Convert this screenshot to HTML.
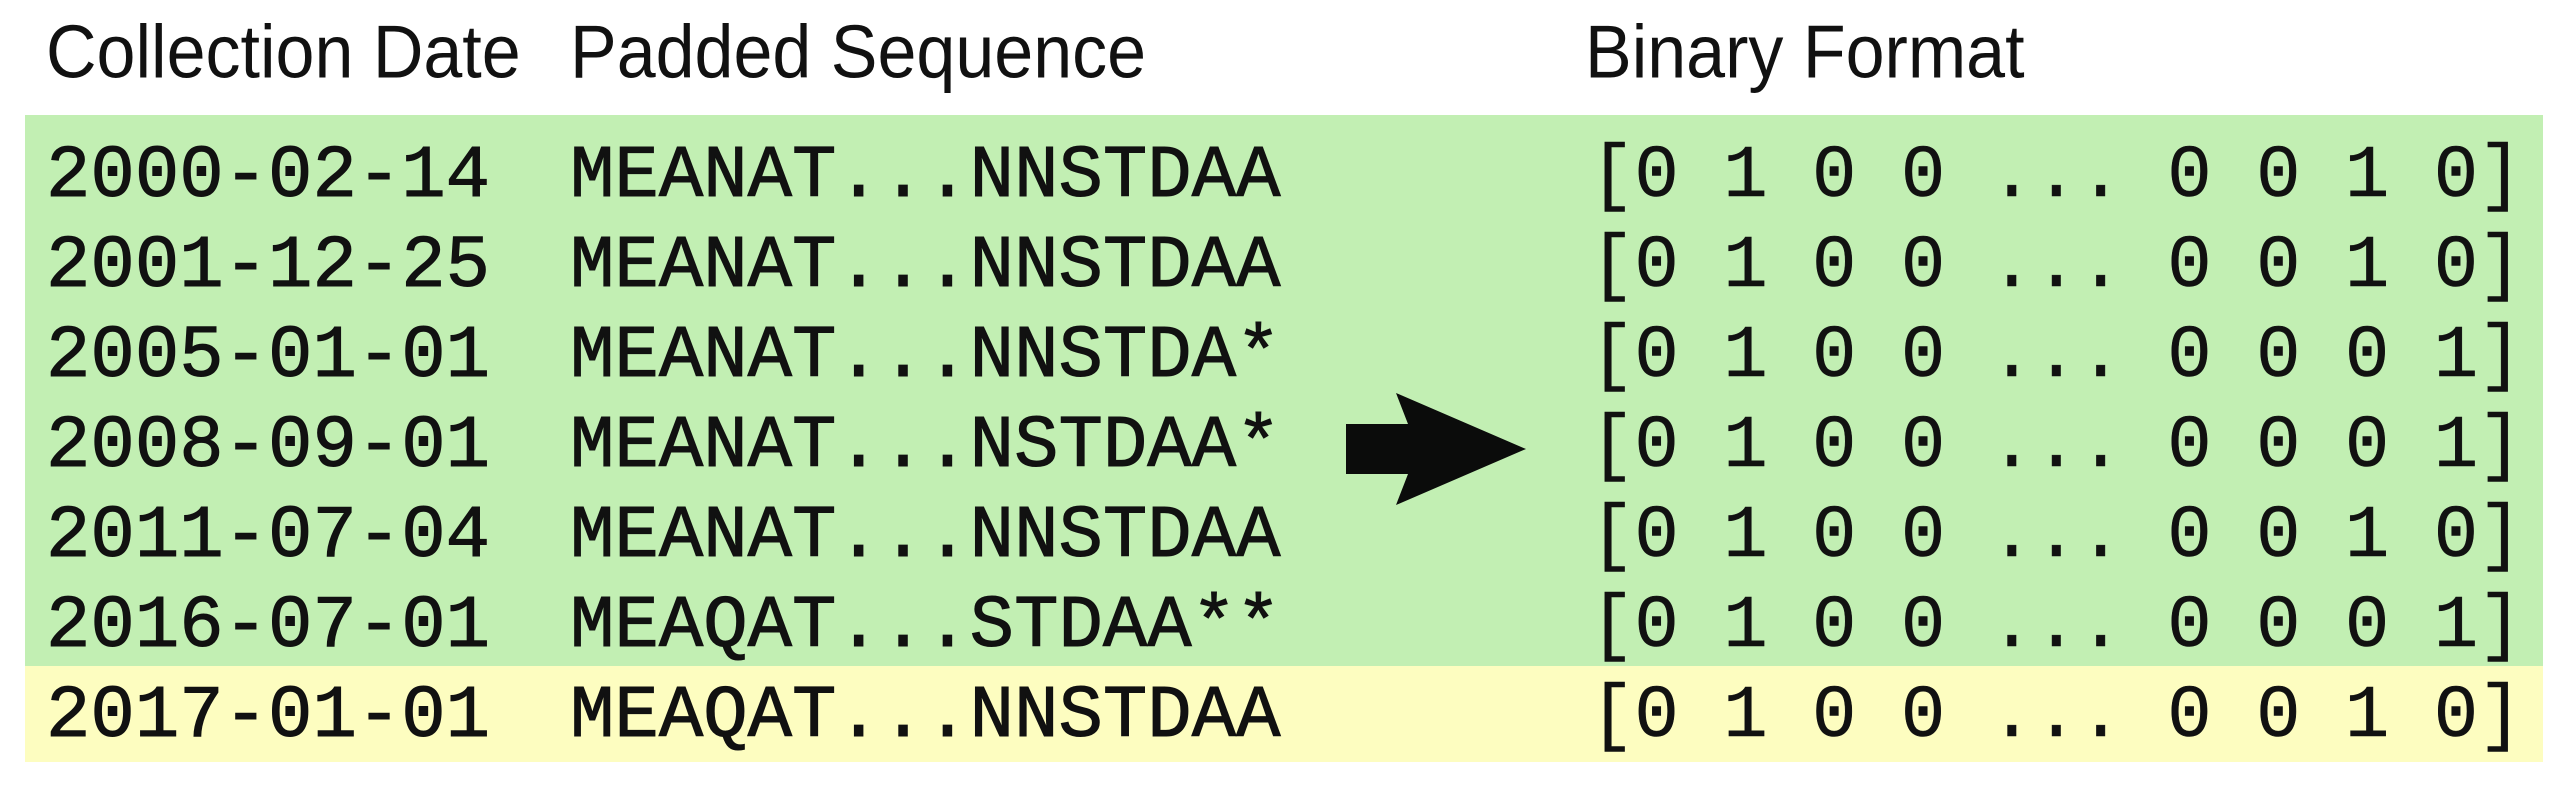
<!DOCTYPE html>
<html><head><meta charset="utf-8"><style>
html,body{margin:0;padding:0;background:#fff;}
body{width:2576px;height:796px;position:relative;overflow:hidden;}
.h{position:absolute;top:8px;font-family:"Liberation Sans",sans-serif;font-size:70px;line-height:90px;color:#111;white-space:pre;transform:scaleY(1.08);transform-origin:0 60px;}
.r{position:absolute;font-family:"Liberation Mono",monospace;font-size:74px;line-height:90px;height:90px;color:#111;white-space:pre;-webkit-text-stroke:1px #111;}
.b{-webkit-text-stroke:0.5px #111;}
</style></head><body>
<div style="position:absolute;left:25px;top:115px;width:2518px;height:551px;background:#c2efb3"></div>
<div style="position:absolute;left:25px;top:666px;width:2518px;height:96px;background:#fdfdc0"></div>
<div class="h" style="left:46px">Collection Date</div>
<div class="h" style="left:570px">Padded Sequence</div>
<div class="h" style="left:1585px">Binary Format</div>

<div class="r" style="left:46px;top:132px">2000-02-14</div>
<div class="r" style="left:46px;top:222px">2001-12-25</div>
<div class="r" style="left:46px;top:312px">2005-01-01</div>
<div class="r" style="left:46px;top:402px">2008-09-01</div>
<div class="r" style="left:46px;top:492px">2011-07-04</div>
<div class="r" style="left:46px;top:582px">2016-07-01</div>
<div class="r" style="left:46px;top:672px">2017-01-01</div>

<div class="r" style="left:570px;top:132px">MEANAT...NNSTDAA</div>
<div class="r" style="left:570px;top:222px">MEANAT...NNSTDAA</div>
<div class="r" style="left:570px;top:312px">MEANAT...NNSTDA*</div>
<div class="r" style="left:570px;top:402px">MEANAT...NSTDAA*</div>
<div class="r" style="left:570px;top:492px">MEANAT...NNSTDAA</div>
<div class="r" style="left:570px;top:582px">MEAQAT...STDAA**</div>
<div class="r" style="left:570px;top:672px">MEAQAT...NNSTDAA</div>

<div class="r b" style="left:1590px;top:132px">[0 1 0 0 ... 0 0 1 0]</div>
<div class="r b" style="left:1590px;top:222px">[0 1 0 0 ... 0 0 1 0]</div>
<div class="r b" style="left:1590px;top:312px">[0 1 0 0 ... 0 0 0 1]</div>
<div class="r b" style="left:1590px;top:402px">[0 1 0 0 ... 0 0 0 1]</div>
<div class="r b" style="left:1590px;top:492px">[0 1 0 0 ... 0 0 1 0]</div>
<div class="r b" style="left:1590px;top:582px">[0 1 0 0 ... 0 0 0 1]</div>
<div class="r b" style="left:1590px;top:672px">[0 1 0 0 ... 0 0 1 0]</div>

<svg style="position:absolute;left:0;top:0" width="2576" height="796">
<polygon points="1346,424 1408,424 1396,393 1526,449 1396,505 1408,474 1346,474" fill="#0b0c0b"/>
</svg>
</body></html>
